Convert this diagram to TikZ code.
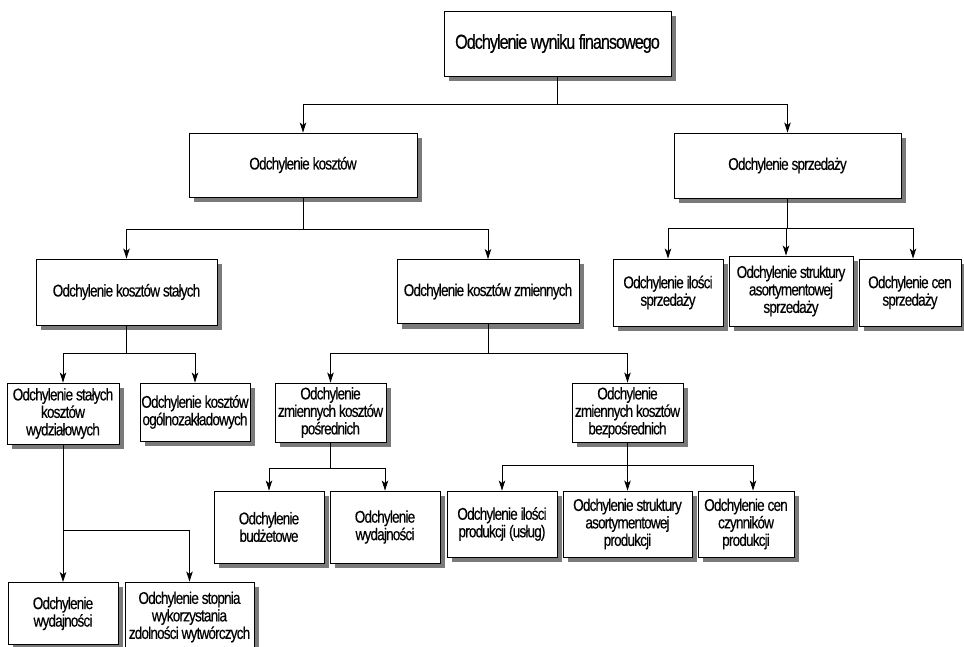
\documentclass[tikz,border=0pt]{standalone}
\usepackage{fontspec}
\newfontfamily\condfont[FakeStretch=0.8,LetterSpace=-5,FakeBold=0.3]{Liberation Sans}
\usetikzlibrary{arrows.meta,backgrounds}

\tikzset{
  box/.style={draw,line width=0.9pt,fill=white,align=center,inner sep=1pt,
    font=\condfont\fontsize{17}{17.5}\selectfont},
  titlebox/.style={box,font=\condfont\fontsize{20.3}{21}\selectfont},
  link/.style={line width=0.9pt},
  arr/.style={link,-{Stealth[length=10pt,width=6.5pt,inset=2.5pt]}}
}

\begin{document}
\begin{tikzpicture}[x=1pt,y=-1pt]
\useasboundingbox (0,0) rectangle (964,646);

% level 0
\node[titlebox,minimum width=227pt,minimum height=65pt] (root) at (557.5,43.5) {Odchylenie wyniku finansowego};

% level 1
\node[box,minimum width=228pt,minimum height=64pt] (kosz) at (303,165) {Odchylenie kosztów};
\node[box,minimum width=227pt,minimum height=65pt] (sprz) at (787.5,165.5) {Odchylenie sprzedaży};

% level 2
\node[box,minimum width=181pt,minimum height=66pt] (stal) at (126.5,292) {Odchylenie kosztów stałych};
\node[box,minimum width=182pt,minimum height=64pt] (zmien) at (488,291.5) {Odchylenie kosztów zmiennych};
\node[box,minimum width=110pt,minimum height=67pt] (sil) at (668,292.5) {Odchylenie ilości\\sprzedaży};
\node[box,minimum width=124pt,minimum height=70pt] (sstr) at (791,291) {Odchylenie struktury\\asortymentowej\\sprzedaży};
\node[box,minimum width=102pt,minimum height=67pt] (scen) at (910,292.5) {Odchylenie cen\\sprzedaży};

% level 3
\node[box,minimum width=112pt,minimum height=61pt] (wydz) at (63,413.5) {Odchylenie stałych\\kosztów\\wydziałowych};
\node[box,minimum width=110pt,minimum height=58pt] (ogol) at (195,412) {Odchylenie kosztów\\ogólnozakładowych};
\node[box,minimum width=111pt,minimum height=59pt] (pos) at (330.5,412.5) {Odchylenie\\zmiennych kosztów\\pośrednich};
\node[box,minimum width=111pt,minimum height=59pt] (bez) at (627.5,412.5) {Odchylenie\\zmiennych kosztów\\bezpośrednich};

% level 4
\node[box,minimum width=110pt,minimum height=72pt] (budz) at (269,527) {Odchylenie\\budżetowe};
\node[box,minimum width=110pt,minimum height=72pt] (wyd1) at (385,527) {Odchylenie\\wydajności};
\node[box,minimum width=110pt,minimum height=66pt] (pil) at (502,524) {Odchylenie ilości\\produkcji (usług)};
\node[box,minimum width=129pt,minimum height=66pt] (pstr) at (627.5,524) {Odchylenie struktury\\asortymentowej\\produkcji};
\node[box,minimum width=96pt,minimum height=66pt] (pcen) at (746,524) {Odchylenie cen\\czynników\\produkcji};

% level 5 (runs past the lower edge)
\node[box,minimum width=110pt,minimum height=62pt,anchor=north] (wyd2) at (63,582) {Odchylenie\\wydajności};
\node[box,minimum width=129pt,minimum height=70pt] (stop) at (189.5,617) {Odchylenie stopnia\\wykorzystania\\zdolności wytwórczych};

% drop shadows behind every box
\begin{scope}[on background layer]
\foreach \n in {root,kosz,sprz,stal,zmien,sil,sstr,scen,wydz,ogol,pos,bez,budz,wyd1,pil,pstr,pcen,wyd2,stop}
\fill[black!52] ([shift={(5pt,-5pt)}]\n.south west) rectangle ([shift={(5pt,-5pt)}]\n.north east);
\end{scope}

% junctions
\coordinate (jroot) at (557.5,104);
\coordinate (jkosz) at (303,229);
\coordinate (jsprz) at (787.5,228);
\coordinate (jstal) at (126.5,353);
\coordinate (jzmien) at (488,353);
\coordinate (jpos) at (330.5,468);
\coordinate (jbez) at (627.5,465);
\coordinate (jwydz) at (63,530);

% connectors
\draw[link] (root.south) -- (jroot);
\draw[arr] (jroot) -| (kosz.north);
\draw[arr] (jroot) -| (sprz.north);

\draw[link] (kosz.south) -- (jkosz);
\draw[arr] (jkosz) -| (stal.north);
\draw[arr] (jkosz) -| (zmien.north);

\draw[link] (sprz.south) -- (jsprz);
\draw[arr] (jsprz) -| (sil.north);
\draw[arr] (jsprz) -| ([xshift=-5pt]sstr.north);
\draw[arr] (jsprz) -| ([xshift=3pt]scen.north);

\draw[link] (stal.south) -- (jstal);
\draw[arr] (jstal) -| (wydz.north);
\draw[arr] (jstal) -| (ogol.north);

\draw[link] (zmien.south) -- (jzmien);
\draw[arr] (jzmien) -| (pos.north);
\draw[arr] (jzmien) -| (bez.north);

\draw[link] (pos.south) -- (jpos);
\draw[arr] (jpos) -| (budz.north);
\draw[arr] (jpos) -| (wyd1.north);

\draw[link] (bez.south) -- (jbez);
\draw[arr] (jbez) -| (pil.north);
\draw[arr] (jbez) -- (pstr.north);
\draw[arr] (jbez) -| ([xshift=7pt]pcen.north);

\draw[link] (wydz.south) -- (jwydz);
\draw[arr] (jwydz) -- (wyd2.north);
\draw[arr] (jwydz) -| (stop.north);

\end{tikzpicture}
\end{document}
